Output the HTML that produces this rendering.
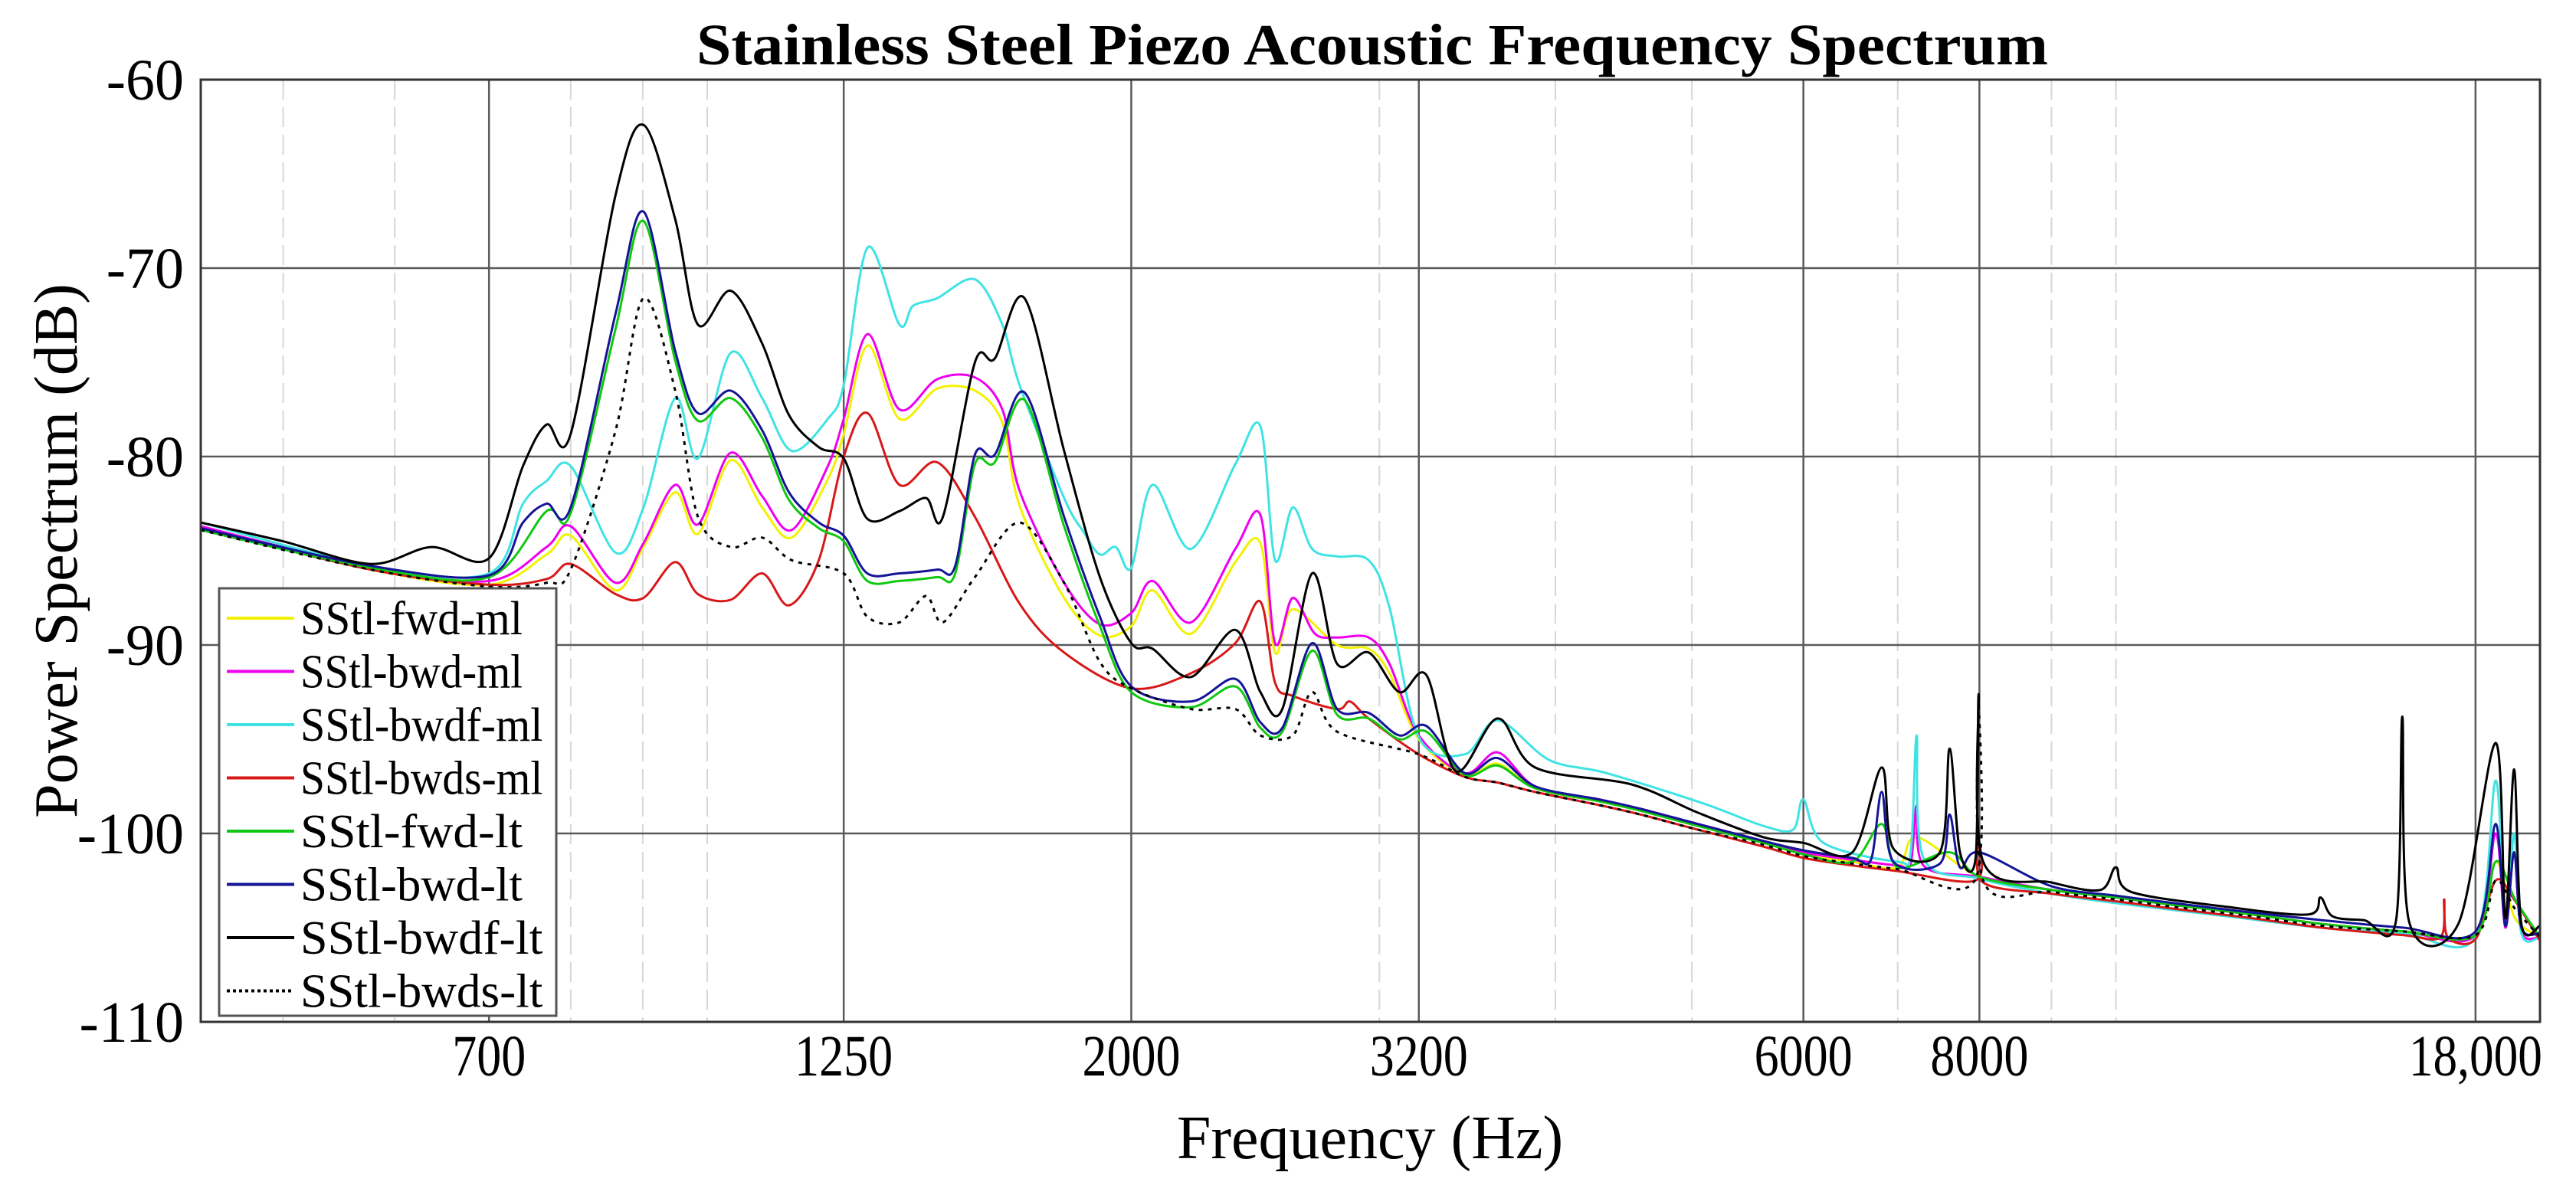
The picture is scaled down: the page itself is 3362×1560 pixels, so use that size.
<!DOCTYPE html>
<html><head><meta charset="utf-8">
<style>
html,body{margin:0;padding:0;background:#fff;}
svg{display:block;font-family:"Liberation Serif",serif;}
</style></head>
<body>
<svg id="chart" width="3362" height="1560" viewBox="0 0 3362 1560" xmlns="http://www.w3.org/2000/svg">
<rect x="0" y="0" width="3362" height="1560" fill="#fff"/>
<text x="1791" y="84" text-anchor="middle" font-size="76" font-weight="bold" textLength="1764" lengthAdjust="spacingAndGlyphs">Stainless Steel Piezo Acoustic Frequency Spectrum</text>
<g id="grid"></g>
<g id="ticks"></g>
<g id="series"></g>
<rect x="262" y="104" width="3053" height="1230" fill="none" stroke="#333" stroke-width="3"/>
<text x="1788" y="1512" text-anchor="middle" font-size="80">Frequency (Hz)</text>
<text x="0" y="0" transform="translate(100,719) rotate(-90)" text-anchor="middle" font-size="80">Power Spectrum (dB)</text>
<g id="legend"></g>
</svg>
<script>
const xTicks = [700, 1250, 2000, 3200, 6000, 8000, 18000];
const xTickLabels = ["700", "1250", "2000", "3200", "6000", "8000", "18,000"];
const xMinorGrid = [500, 600, 800, 900, 1000, 3000, 4000, 5000, 7000, 9000, 10000];
const yTicks = [-60, -70, -80, -90, -100, -110];
const seriesNames = ["SStl-fwd-ml","SStl-bwd-ml","SStl-bwdf-ml","SStl-bwds-ml","SStl-fwd-lt","SStl-bwd-lt","SStl-bwdf-lt","SStl-bwds-lt"];

const fwdMlF = [437,577,700,769,800,861,901,949,985,1039,1094,1148,1218,1250,1300,1369,1456,1549,1620,1666,1792,1900,2000,2071,2205,2371,2470,2530,2604,2800,2948,3050,3200,3450,3640,3870,4300,4600,5050,5620,6000,6500,7000,7220,8000,9000,10000,11000,12500,14000,16000,18000,18600,19200,20000];
const fwdMlV = [-83.8,-86,-86.8,-85.2,-84.2,-87.1,-84.8,-81.9,-84.1,-80.2,-82.7,-84.3,-81.2,-78.8,-74.1,-78.0,-76.4,-76.5,-78.2,-82.6,-87.5,-89.5,-89.0,-87.1,-89.4,-85.6,-84.6,-90.4,-88.1,-90.0,-90.2,-91.5,-95,-96.9,-96.3,-97.6,-98.3,-98.8,-99.6,-100.5,-101.1,-101.5,-101.8,-100.2,-102.3,-103.0,-103.4,-103.8,-104.3,-104.8,-105.2,-105.4,-101.5,-104.5,-105.5];

const bwdMlF = [437,577,700,769,800,861,901,949,985,1039,1094,1148,1218,1250,1300,1369,1456,1549,1620,1666,1792,1900,2000,2071,2205,2371,2470,2530,2604,2700,2800,2948,3050,3200,3450,3640,3870,4300,4600,5050,5620,6000,6500,7000,7150,7220,7300,8000,9000,10000,11000,12500,14000,16000,18000,18600,18900,19170,19400,20000];
const bwdMlV = [-83.7,-85.9,-86.6,-84.8,-83.7,-86.7,-84.6,-81.5,-83.6,-79.8,-82.1,-83.9,-80.5,-78,-73.5,-77.5,-75.9,-75.8,-77.5,-81.8,-86.7,-88.9,-88.3,-86.6,-88.8,-84.9,-83.1,-89.9,-87.5,-89.4,-89.6,-89.6,-91,-94.8,-96.8,-95.7,-97.5,-98.2,-98.7,-99.5,-100.4,-101.0,-101.4,-101.7,-101.6,-98.5,-101.7,-102.3,-103.0,-103.4,-103.8,-104.3,-104.8,-105.2,-105.4,-100.0,-105.0,-101.0,-105.2,-105.5];

const bwdfMlF = [437,577,700,740,769,800,861,901,949,985,1039,1094,1148,1218,1250,1300,1369,1400,1456,1549,1620,1666,1792,1850,1900,1950,2000,2071,2205,2371,2470,2530,2604,2688,2800,2948,3050,3200,3450,3640,3960,4350,5090,5620,5900,6000,6200,7000,7150,7220,7300,8000,9000,10000,12000,14000,16000,18000,18600,18900,19170,19400,20000];
const bwdfMlV = [-83.5,-85.8,-86.2,-82.5,-81.3,-80.5,-85.1,-82.7,-76.9,-80.1,-74.5,-76.9,-79.7,-78.0,-76.2,-68.9,-73.0,-72.0,-71.6,-70.6,-73.0,-76.2,-82.2,-84.0,-85.2,-84.8,-85.9,-81.5,-84.9,-80.4,-78.4,-85.5,-82.7,-84.9,-85.3,-85.5,-88,-94.9,-95.8,-94.0,-96.1,-96.8,-98.4,-99.6,-99.8,-98.2,-100.5,-101.5,-101.0,-94.8,-101.3,-102.4,-103.2,-103.7,-104.4,-105.0,-105.3,-105.5,-97.2,-104.8,-100.0,-105.3,-105.5];

const bwdsMlF = [437,577,700,769,800,861,901,949,985,1039,1094,1143,1200,1250,1300,1369,1456,1549,1666,1792,2000,2205,2371,2470,2530,2604,2800,2860,2948,3200,3450,3640,3870,4300,4600,5050,5620,6000,6500,7000,7950,7990,8050,9000,10000,11000,12500,14000,16000,17000,17100,17200,18000,18600,19170,20000];
const bwdsMlV = [-83.8,-86,-86.8,-86.5,-85.7,-87.3,-87.5,-85.6,-87.3,-87.6,-86.2,-87.9,-85.5,-80,-77.7,-81.5,-80.3,-83.2,-87.8,-90.4,-92.3,-91.5,-89.9,-87.7,-92,-92.7,-93.4,-93,-93.9,-95.8,-97.0,-97.3,-97.8,-98.5,-99.0,-99.8,-100.7,-101.3,-101.7,-102.0,-102.5,-100.3,-102.6,-103.2,-103.6,-104.0,-104.5,-105.0,-105.4,-105.5,-103.5,-105.5,-105.6,-102.5,-103.5,-105.7];

const fwdLtF = [437,577,700,769,800,861,901,949,985,1039,1094,1143,1200,1250,1299,1369,1456,1500,1549,1600,1680,1792,1900,2000,2205,2371,2470,2560,2688,2800,2948,3100,3240,3450,3640,3870,4300,4600,5050,5620,6000,6500,6820,7000,7620,8000,9000,10000,11000,12500,14000,16000,18000,18600,19200,20000];
const fwdLtV = [-83.9,-85.9,-86.4,-82.9,-83.0,-73.2,-67.5,-74.9,-78.1,-76.9,-79.0,-82.3,-83.8,-84.5,-86.6,-86.6,-86.4,-86.2,-80.4,-80.3,-77.0,-83.7,-89,-92.5,-93.3,-92.2,-94.4,-94.6,-90.3,-93.7,-93.9,-95,-94.6,-96.9,-96.4,-97.6,-98.3,-98.8,-99.6,-100.5,-101.1,-101.5,-99.5,-101.8,-101.0,-102.3,-103.0,-103.4,-103.8,-104.3,-104.8,-105.2,-105.4,-101.5,-103.5,-105.5];

const bwdLtF = [437,577,700,740,769,800,861,901,949,985,1039,1094,1143,1200,1250,1299,1369,1456,1500,1549,1600,1680,1792,1900,2000,2205,2371,2470,2560,2688,2800,2948,3100,3240,3450,3640,3870,4300,4600,5050,5620,6000,6500,6700,6820,6950,7500,7620,7750,8000,9000,10000,11000,12500,14000,16000,18000,18600,18900,19170,19400,20000];
const bwdLtV = [-83.8,-85.8,-86.3,-83.5,-82.5,-82.7,-72.4,-67.0,-74.4,-77.7,-76.5,-78.6,-81.9,-83.5,-84.2,-86.2,-86.2,-86.0,-85.8,-79.9,-79.9,-76.6,-83.2,-88.5,-92.2,-93.0,-91.8,-94.1,-94.4,-89.9,-93.4,-93.6,-94.8,-94.3,-96.8,-96.0,-97.5,-98.2,-98.7,-99.5,-100.4,-100.9,-101.3,-101.4,-97.8,-101.5,-101.6,-99.0,-101.8,-101.0,-102.8,-103.3,-103.7,-104.2,-104.6,-105.0,-105.2,-99.5,-104.9,-101.0,-105.0,-105.3];

const bwdfLtF = [437,500,577,637,700,740,769,800,861,901,949,985,1039,1094,1143,1200,1250,1299,1369,1430,1470,1549,1600,1680,1792,1900,2000,2071,2205,2371,2470,2560,2688,2800,2948,3100,3240,3400,3640,3870,4530,5050,5620,6000,6500,6820,6950,7500,7620,7750,7950,7990,8050,9000,9750,10000,10250,12000,13700,13970,14250,15000,15800,15970,16150,17500,18600,18900,19170,19400,20000];
const bwdfLtV = [-83.5,-84.5,-85.7,-84.8,-85.4,-80.5,-78.3,-78.8,-66.1,-62.4,-67.4,-73.0,-71.2,-74.0,-77.8,-79.5,-80.1,-83.3,-82.9,-82.2,-83.2,-75.0,-74.8,-71.6,-79.7,-86.4,-89.9,-90.2,-91.7,-89.2,-92.5,-93.4,-86.2,-91.0,-90.4,-92.5,-91.6,-96.7,-93.9,-96.5,-97.4,-98.9,-100.2,-100.5,-101.0,-96.5,-100.8,-101.0,-95.5,-101.0,-101.3,-92.6,-101.5,-102.6,-103.0,-101.8,-103.1,-103.9,-104.3,-103.4,-104.4,-104.6,-104.7,-93.8,-104.7,-104.8,-95.2,-104.5,-96.6,-104.8,-104.9];

const bwdsLtF = [437,577,700,769,800,861,901,949,985,1039,1094,1148,1250,1299,1369,1430,1470,1549,1666,1792,1900,2000,2205,2371,2470,2604,2688,2800,3200,3450,3640,3870,4300,4600,5050,5620,6000,6500,7000,7950,7990,8050,9000,10000,11000,12500,14000,16000,18000,18600,19200,20000];
const bwdsLtV = [-83.9,-86,-86.9,-86.7,-86.0,-78.6,-71.6,-76.5,-83.2,-84.8,-84.3,-85.5,-86.2,-88.5,-88.8,-87.4,-88.8,-86.4,-83.5,-86.7,-90.9,-92.3,-93.4,-93.4,-94.8,-94.8,-92.5,-94.6,-95.8,-97.0,-97.3,-97.8,-98.5,-99.0,-99.8,-100.6,-101.2,-101.6,-101.9,-102.4,-92.8,-102.5,-103.1,-103.5,-103.9,-104.4,-104.9,-105.2,-105.4,-102.5,-104,-105.5];

const seriesF = [fwdMlF,bwdMlF,bwdfMlF,bwdsMlF,fwdLtF,bwdLtF,bwdfLtF,bwdsLtF];
const seriesV = [fwdMlV,bwdMlV,bwdfMlV,bwdsMlV,fwdLtV,bwdLtV,bwdfLtV,bwdsLtV];
const seriesColor = ["#f2f200","#ee00ee","#3fe3e3","#d81818","#10c810","#141496","#000000","#000000"];
const seriesDash = ["","","","","","","","5 7"];

const NS = "http://www.w3.org/2000/svg";
const L = 262, R = 3315, T = 104, B = 1334;
const fMin = 437, fMax = 20000, yMax = -60, yMin = -110;
function xs(f){ return L + (R - L) * Math.log10(f / fMin) / Math.log10(fMax / fMin); }
function ys(v){ return T + (B - T) * (yMax - v) / (yMax - yMin); }
function mk(tag, attrs, parent){ const e = document.createElementNS(NS, tag); for (const k in attrs) e.setAttribute(k, attrs[k]); parent.appendChild(e); return e; }

const grid = document.getElementById('grid');
const ticks = document.getElementById('ticks');
xMinorGrid.forEach(f => {
  const l = mk('line', {x1: xs(f), x2: xs(f), y1: T, y2: B, stroke: '#d6d6d6', 'stroke-width': 2, 'stroke-dasharray': '26 10'}, grid);
  
  
});
xTicks.forEach((f, i) => {
  const l = mk('line', {x1: xs(f), x2: xs(f), y1: T, y2: B, stroke: '#5a5a5a', 'stroke-width': 2.5}, grid);
  
  
  const lab = xTickLabels[i];
  const nd = lab.replace(/,/g, '').length, nc = lab.length - nd;
  const t = mk('text', {x: xs(f), y: 1404, 'text-anchor': 'middle', 'font-size': 76, textLength: nd * 32 + nc * 14, lengthAdjust: 'spacingAndGlyphs'}, ticks);
  t.textContent = lab;
  
  
});
yTicks.forEach(v => {
  const l = mk('line', {x1: L, x2: R, y1: ys(v), y2: ys(v), stroke: '#5a5a5a', 'stroke-width': 2.5}, grid);
  
  
  const t = mk('text', {x: 240, y: ys(v) + 26, 'text-anchor': 'end', 'font-size': 76}, ticks);
  t.textContent = String(v);
  
  
});

function smoothPath(pts){
  let d = 'M' + pts[0][0].toFixed(1) + ',' + pts[0][1].toFixed(1);
  for (let i = 0; i < pts.length - 1; i++) {
    const p0 = pts[Math.max(0, i - 1)], p1 = pts[i], p2 = pts[i + 1], p3 = pts[Math.min(pts.length - 1, i + 2)];
    const k = 0.16;
    const c1x = p1[0] + (p2[0] - p0[0]) * k, c1y = p1[1] + (p2[1] - p0[1]) * k;
    const c2x = p2[0] - (p3[0] - p1[0]) * k, c2y = p2[1] - (p3[1] - p1[1]) * k;
    d += ' C' + c1x.toFixed(1) + ',' + c1y.toFixed(1) + ' ' + c2x.toFixed(1) + ',' + c2y.toFixed(1) + ' ' + p2[0].toFixed(1) + ',' + p2[1].toFixed(1);
  }
  return d;
}
const sg = document.getElementById('series');
seriesNames.forEach((name, i) => {
  const pts = seriesF[i].map((f, j) => [xs(f), ys(seriesV[i][j])]);
  const p = mk('path', {d: smoothPath(pts), fill: 'none', stroke: seriesColor[i], 'stroke-width': 3, 'stroke-linejoin': 'round'}, sg);
  if (seriesDash[i]) p.setAttribute('stroke-dasharray', seriesDash[i]);
  
  
});

const lg = document.getElementById('legend');
const box = mk('rect', {x: 286, y: 768, width: 440, height: 558, fill: '#fff', stroke: '#555', 'stroke-width': 3}, lg);


seriesNames.forEach((name, i) => {
  const cy = 807 + i * 69.5;
  const g = mk('g', {}, lg);
  
  
  const ln = mk('line', {x1: 296, x2: 384, y1: cy, y2: cy, stroke: seriesColor[i], 'stroke-width': 4}, g);
  if (seriesDash[i]) ln.setAttribute('stroke-dasharray', '4 4');
  
  
  const t = mk('text', {x: 392, y: cy + 21, 'font-size': 62, textLength: 290 * name.length / 11, lengthAdjust: 'spacingAndGlyphs'}, g);
  t.textContent = name;
  
  
});
</script>
</body></html>
